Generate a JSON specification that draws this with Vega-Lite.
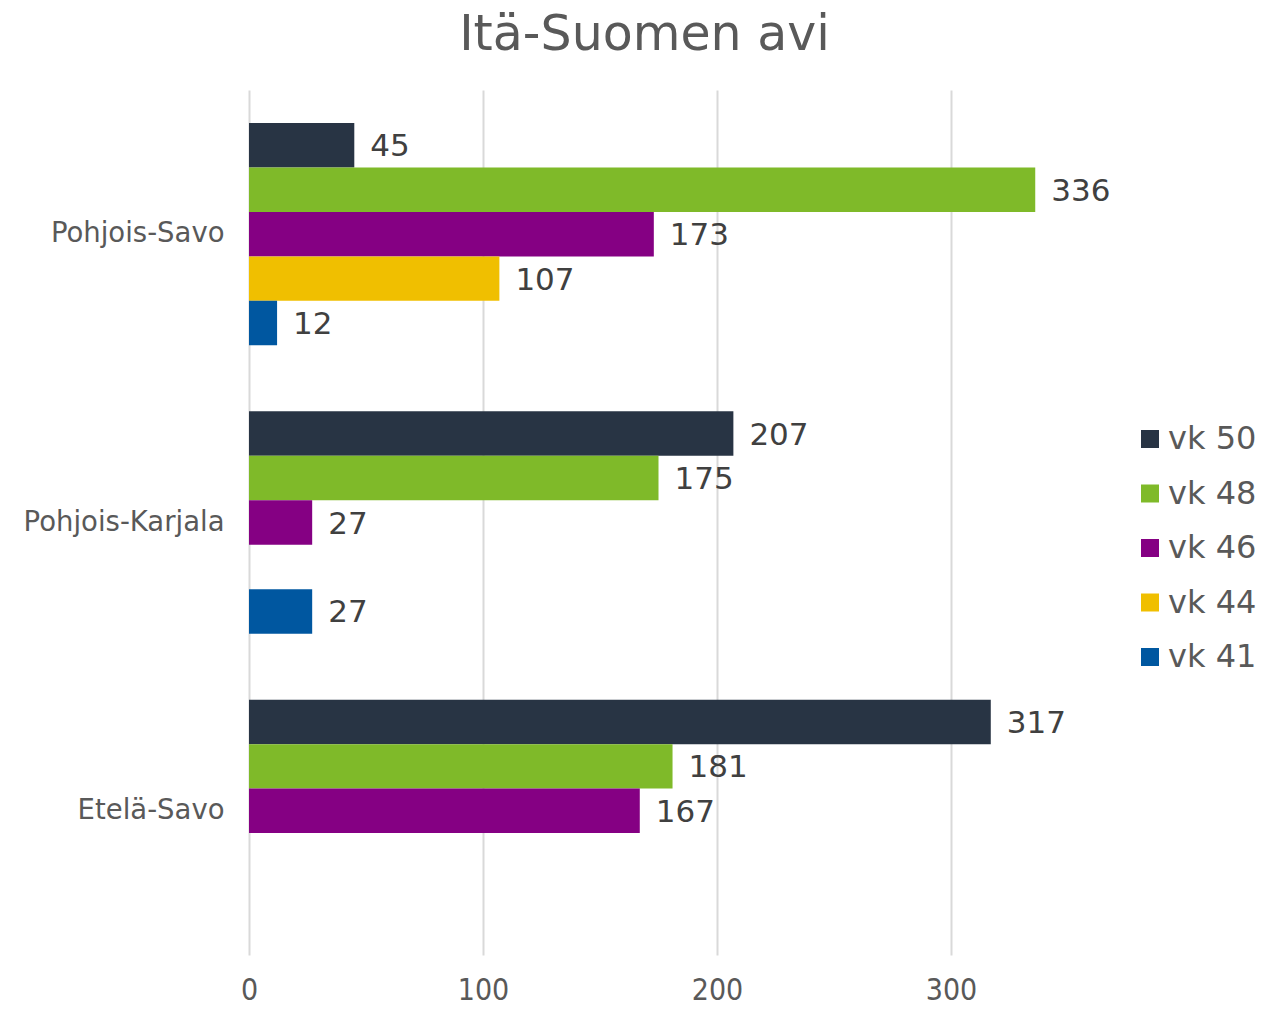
{
  "$schema": "https://vega.github.io/schema/vega-lite/v6.json",
  "width": 819,
  "height": 865,
  "autosize": {"type": "none"},
  "padding": {"left": 249, "top": 90, "right": 213, "bottom": 57},
  "background": "white",
  "title": {
    "text": "Itä-Suomen avi",
    "font": "DejaVu Sans",
    "fontSize": 49,
    "fontWeight": "normal",
    "color": "#595959",
    "anchor": "middle",
    "frame": "group",
    "dx": -14,
    "offset": 30
  },
  "config": {
    "view": {"stroke": null},
    "font": "DejaVu Sans"
  },
  "data": {
    "values": [
      {"region": "Pohjois-Savo", "week": "vk 50", "value": 45},
      {"region": "Pohjois-Savo", "week": "vk 48", "value": 336},
      {"region": "Pohjois-Savo", "week": "vk 46", "value": 173},
      {"region": "Pohjois-Savo", "week": "vk 44", "value": 107},
      {"region": "Pohjois-Savo", "week": "vk 41", "value": 12},
      {"region": "Pohjois-Karjala", "week": "vk 50", "value": 207},
      {"region": "Pohjois-Karjala", "week": "vk 48", "value": 175},
      {"region": "Pohjois-Karjala", "week": "vk 46", "value": 27},
      {"region": "Pohjois-Karjala", "week": "vk 41", "value": 27},
      {"region": "Etelä-Savo", "week": "vk 50", "value": 317},
      {"region": "Etelä-Savo", "week": "vk 48", "value": 181},
      {"region": "Etelä-Savo", "week": "vk 46", "value": 167}
    ]
  },
  "encoding": {
    "y": {
      "field": "region",
      "type": "nominal",
      "sort": ["Pohjois-Savo", "Pohjois-Karjala", "Etelä-Savo"],
      "scale": {"paddingInner": 0.229, "paddingOuter": 0.1145},
      "axis": {
        "title": null,
        "ticks": false,
        "domain": false,
        "labelFont": "DejaVu Sans",
        "labelFontSize": 27.5,
        "labelColor": "#595959",
        "labelPadding": 25,
        "labelLimit": 400
      }
    },
    "yOffset": {
      "field": "week",
      "type": "nominal",
      "sort": ["vk 50", "vk 48", "vk 46", "vk 44", "vk 41"],
      "scale": {"domain": ["vk 50", "vk 48", "vk 46", "vk 44", "vk 41"], "paddingInner": 0, "paddingOuter": 0}
    },
    "x": {
      "field": "value",
      "type": "quantitative",
      "scale": {"domain": [0, 350], "nice": false},
      "axis": {
        "title": null,
        "values": [0, 100, 200, 300],
        "ticks": false,
        "domain": false,
        "grid": true,
        "gridColor": "#d9d9d9",
        "gridWidth": 2,
        "labelFont": "'DejaVu Sans Condensed', 'Liberation Sans Narrow', Roboto, sans-serif",
        "labelFontSize": 30,
        "labelColor": "#595959",
        "labelPadding": 20,
        "labelFlush": false
      }
    }
  },
  "layer": [
    {
      "mark": {"type": "bar"},
      "encoding": {
        "color": {
          "field": "week",
          "type": "nominal",
          "scale": {
            "domain": ["vk 50", "vk 48", "vk 46", "vk 44", "vk 41"],
            "range": ["#283444", "#7fba29", "#850083", "#f0bf00", "#0057a0"]
          },
          "legend": {
            "title": null,
            "orient": "none",
            "legendX": 885,
            "legendY": 333,
            "padding": 0,
            "symbolType": "square",
            "symbolSize": 324,
            "symbolStrokeWidth": 0,
            "labelFont": "DejaVu Sans",
            "labelFontSize": 32,
            "labelColor": "#595959",
            "labelOffset": 2,
            "rowPadding": 22.5
          }
        }
      }
    },
    {
      "mark": {"type": "text", "align": "left", "baseline": "middle", "dx": 16, "dy": 2, "fontSize": 31, "color": "#404040", "font": "DejaVu Sans"},
      "encoding": {
        "text": {"field": "value", "type": "quantitative"}
      }
    }
  ]
}
